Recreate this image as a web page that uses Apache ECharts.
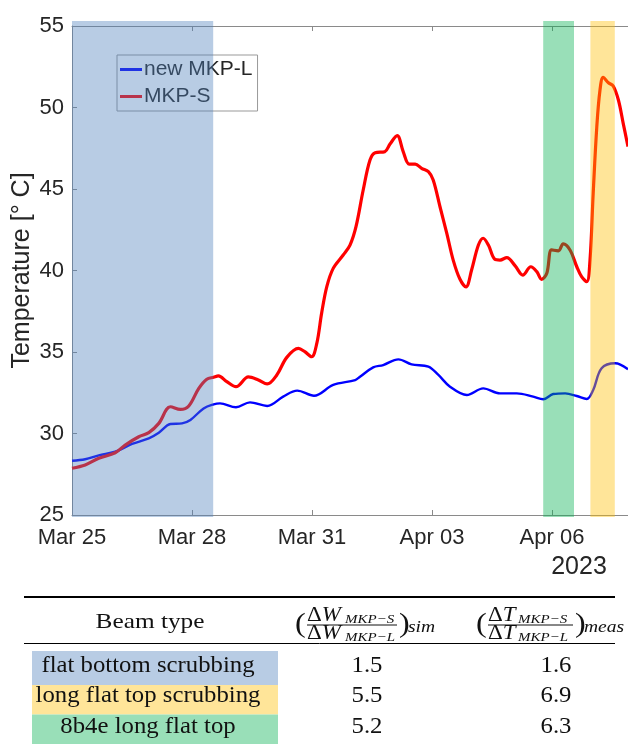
<!DOCTYPE html>
<html><head><meta charset="utf-8">
<script src="https://cdn.jsdelivr.net/npm/echarts@6/dist/echarts.min.js"></script>
<style>html,body{margin:0;padding:0;background:#fff}#c{width:628px;height:744px}</style>
</head><body><div id="c"></div>
<script>
// ---- data (x = days since Mar 25 2023 00:00) ----
const dayS = [0.00,0.33,0.67,1.08,1.33,1.67,1.92,2.17,2.46,2.71,2.92,3.17,3.37,3.54,3.66,3.87,4.10,4.41,4.66,4.88,5.12,5.37,5.66,5.82,5.99,6.12,6.24,6.37,6.53,6.78,6.95,7.10,7.28,7.45,7.58,7.82,7.95,8.13,8.28,8.43,8.58,8.74,8.91,9.03,9.20,9.37,9.53,9.70,9.85,9.99,10.16,10.28,10.41,10.57,10.70,10.87,11.08,11.27,11.47,11.62,11.74,11.87,11.99,12.16,12.28,12.45,12.62,12.74,12.87,12.95,13.03,13.12,13.20,13.28,13.41,13.53,13.66,13.78,13.90];
const tempS = [27.87,28.07,28.48,28.82,29.29,29.80,30.05,30.62,31.64,31.48,31.69,32.77,33.33,33.45,33.53,33.18,32.87,33.47,33.28,33.04,33.59,34.67,35.22,35.02,34.71,35.53,37.37,39.01,40.13,40.95,41.56,42.69,44.94,46.78,47.23,47.29,47.76,48.27,47.29,46.53,46.53,46.27,46.06,45.55,43.91,42.28,40.64,39.46,39.00,40.03,41.56,41.98,41.56,40.69,40.64,40.79,40.28,39.72,40.23,39.93,39.46,39.83,41.26,41.21,41.63,41.26,40.23,39.62,39.31,40.64,44.74,48.82,51.07,51.85,51.52,51.32,50.46,49.03,47.60];
const dayL = [0.00,0.33,0.67,1.08,1.50,1.92,2.17,2.46,2.75,2.96,3.29,3.54,3.70,4.10,4.45,4.88,5.28,5.63,6.05,6.53,7.08,7.20,7.53,7.78,8.16,8.49,8.91,9.16,9.45,9.87,10.28,10.70,11.12,11.53,11.78,12.03,12.33,12.62,12.87,13.03,13.24,13.58,13.90];
const tempL = [28.33,28.42,28.66,28.88,29.36,29.70,30.05,30.58,30.62,30.83,31.54,31.79,31.85,31.61,31.91,31.69,32.26,32.63,32.32,32.98,33.28,33.48,34.06,34.20,34.55,34.24,34.10,33.59,32.87,32.36,32.77,32.46,32.46,32.26,32.10,32.42,32.46,32.30,32.12,32.67,34.00,34.31,33.94];
const seriesNames = ['new MKP-L', 'MKP-S'];
const xTickLabels = ['Mar 25', 'Mar 28', 'Mar 31', 'Apr 03', 'Apr 06'];
const yearLabel = '2023';
const yTitle = 'Temperature [° C]';
// shaded beam periods (days)
const regionStart = [0, 11.78, 12.96];
const regionEnd = [3.53, 12.55, 13.57];
// table
const tableHeader = 'Beam type';
const beamTypes = ['flat bottom scrubbing', 'long flat top scrubbing', '8b4e long flat top'];
const simRatios = ['1.5', '5.5', '5.2'];
const measRatios = ['1.6', '6.9', '6.3'];

// ---- styles ----
const regionFill = ['rgba(78,128,188,0.4)', 'rgba(0,175,78,0.4)', 'rgba(255,190,0,0.4)'];
const rowFill = ['#b8cce4', '#ffe599', '#99dfb8'];
const SANS = 'Liberation Sans';
const SERIF = 'Liberation Serif';
const TXT = '#262626';
const AX = '#8a8a8a';

const chart = echarts.init(document.getElementById('c'), null, {renderer: 'canvas'});

function tText(x, y, text, size, opts) {
  opts = opts || {};
  return {
    type: 'text', x: x, y: y, scaleX: opts.sx || 1.15, z: 20,
    style: {
      text: text, fontSize: size, fontFamily: SERIF, fontStyle: opts.italic ? 'italic' : 'normal',
      fill: '#111', align: opts.align || 'left', verticalAlign: 'middle', rich: opts.rich
    }
  };
}

const graphics = [];
graphics.push({type: 'text', x: 579, y: 567, z: 20, style: {text: yearLabel, fontSize: 25, fontFamily: SANS, fill: TXT, align: 'center', verticalAlign: 'middle'}});
// table rules
graphics.push({type: 'line', shape: {x1: 24, y1: 597, x2: 615, y2: 597}, style: {stroke: '#000', lineWidth: 2}, z: 20});
graphics.push({type: 'line', shape: {x1: 24, y1: 643.5, x2: 615, y2: 643.5}, style: {stroke: '#000', lineWidth: 1}, z: 20});
// header
graphics.push(tText(150, 622, tableHeader, 22, {align: 'center'}));
const richDW = {u: {fontSize: 20, fontFamily: SERIF}, i: {fontSize: 20, fontFamily: SERIF, fontStyle: 'italic'}};
function fraction(x0, sym, barEnd, parenR, subLabel) {
  graphics.push(tText(x0 - 12, 624.5, '(', 28));
  graphics.push(tText(x0, 615.4, '{u|Δ}{i|' + sym + '}', 20, {rich: richDW}));
  graphics.push(tText(x0, 633.4, '{u|Δ}{i|' + sym + '}', 20, {rich: richDW}));
  const symW = sym === 'W' ? 38 : 30;
  graphics.push(tText(x0 + symW, 619.7, 'MKP−S', 13, {italic: true}));
  graphics.push(tText(x0 + symW, 637.7, 'MKP−L', 13, {italic: true}));
  graphics.push({type: 'line', shape: {x1: x0, y1: 625, x2: barEnd, y2: 625}, style: {stroke: '#111', lineWidth: 1}, z: 20});
  graphics.push(tText(parenR, 624.5, ')', 28));
  graphics.push(tText(parenR + 9, 628, subLabel, 17, {italic: true}));
}
fraction(307, 'W', 397, 399, 'sim');
fraction(488, 'T', 573, 575, 'meas');
// rows
const rowTop = [651, 685, 714.5];
const rowBot = [685, 714.5, 745];
const rowY = [666, 696, 727.5];
beamTypes.forEach((b, i) => {
  graphics.push({type: 'rect', shape: {x: 32, y: rowTop[i], width: 246, height: rowBot[i] - rowTop[i]}, style: {fill: rowFill[i]}, z: 15});
  graphics.push(tText(148, rowY[i], b, 22.5, {align: 'center', sx: 1.1}));
  graphics.push(tText(367, rowY[i], simRatios[i], 22.5, {align: 'center', sx: 1.1}));
  graphics.push(tText(556, rowY[i], measRatios[i], 22.5, {align: 'center', sx: 1.1}));
});

const xCommon = {type: 'value', min: 0, max: 13.9, interval: 3, splitLine: {show: false}};
const option = {
  animation: false,
  backgroundColor: '#fff',
  grid: {left: 72, right: 0, top: 26, bottom: 229, containLabel: false, outerBoundsMode: 'none'},
  legend: {
    orient: 'vertical', left: 117, top: 55, itemWidth: 22, itemHeight: 3, icon: 'rect', itemGap: 6,
    padding: [4, 5, 4, 3], borderColor: '#999', borderWidth: 1, backgroundColor: 'transparent',
    textStyle: {fontSize: 21, fontFamily: SANS, color: TXT, padding: [0, 0, 0, -3]},
    data: seriesNames
  },
  xAxis: [
    Object.assign({}, xCommon, {
      position: 'bottom',
      axisLine: {show: true, lineStyle: {color: AX, width: 1}},
      axisTick: {show: true, inside: true, length: 5, lineStyle: {color: AX}},
      axisLabel: {
        show: true, fontSize: 22, fontFamily: SANS, color: TXT, margin: 12,
        showMinLabel: true, showMaxLabel: false,
        formatter: v => { const k = Math.round(v / 3); return Math.abs(v - 3 * k) < 1e-6 && k < xTickLabels.length ? xTickLabels[k] : ''; }
      }
    }),
    Object.assign({}, xCommon, {
      position: 'top',
      axisLine: {show: true, onZero: false, lineStyle: {color: AX, width: 1}},
      axisTick: {show: true, inside: true, length: 5, lineStyle: {color: AX}},
      axisLabel: {show: false}
    })
  ],
  yAxis: {
    type: 'value', min: 25, max: 55, interval: 5,
    name: yTitle, nameLocation: 'middle', nameGap: 37, nameMoveOverlap: false,
    nameTextStyle: {fontSize: 25, fontFamily: SANS, color: TXT},
    axisLine: {show: true, lineStyle: {color: AX, width: 1}},
    axisTick: {show: true, inside: true, length: 5, lineStyle: {color: AX}},
    axisLabel: {fontSize: 22, fontFamily: SANS, color: TXT, margin: 8},
    splitLine: {show: false}
  },
  series: [
    {
      name: seriesNames[0], type: 'line', xAxisIndex: 0, z: 3,
      data: dayL.map((d, i) => [d, tempL[i]]),
      showSymbol: false, smooth: 0.35, color: '#0000ff',
      lineStyle: {color: '#0000ff', width: 2.4}
    },
    {
      name: seriesNames[1], type: 'line', xAxisIndex: 0, z: 4,
      data: dayS.map((d, i) => [d, tempS[i]]),
      showSymbol: false, smooth: 0.35, color: '#ff0000',
      lineStyle: {color: '#ff0000', width: 3.2}
    },
    {
      type: 'custom', xAxisIndex: 0, z: 10, clip: false, silent: true,
      data: regionStart.map((s, i) => [s, regionEnd[i], i]),
      encode: {x: [0, 1]},
      renderItem: (params, api) => {
        const p0 = api.coord([api.value(0), 55.3]);
        const p1 = api.coord([api.value(1), 24.88]);
        return {type: 'rect', shape: {x: p0[0], y: p0[1], width: p1[0] - p0[0], height: p1[1] - p0[1]},
                style: {fill: regionFill[api.value(2)]}};
      }
    }
  ],
  graphic: graphics
};
chart.setOption(option);
</script></body></html>
